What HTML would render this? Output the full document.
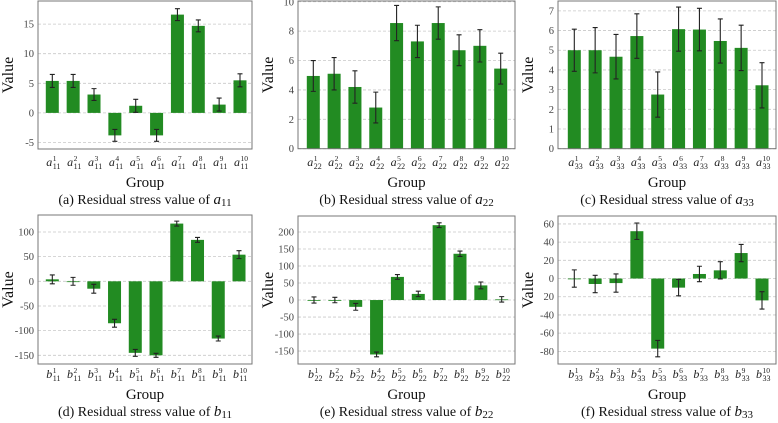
<!DOCTYPE html>
<html><head><meta charset="utf-8"><style>
html,body{margin:0;padding:0;background:#fff;}
svg{display:block;font-family:"Liberation Serif",serif;}
</style></head><body>
<svg id="fig" width="778" height="423" viewBox="0 0 778 423" xmlns="http://www.w3.org/2000/svg"></svg>
<script>
// ---- data ----
const groupsA11 = ["1","2","3","4","5","6","7","8","9","10"];
const valuesA11 = [5.4,5.4,3.1,-3.8,1.2,-3.8,16.6,14.7,1.4,5.5];
const errorsA11 = [1.1,1.1,1.0,1.0,1.1,1.0,1.0,1.0,1.1,1.1];
const ticksA11 = [-5,0,5,10,15];

const valuesA22 = [4.95,5.1,4.2,2.8,8.55,7.3,8.55,6.7,7.0,5.45];
const errorsA22 = [1.05,1.1,1.1,1.05,1.2,1.1,1.1,1.05,1.1,1.05];
const ticksA22 = [0,2,4,6,8,10];

const valuesA33 = [5.0,5.0,4.67,5.72,2.75,6.07,6.05,5.47,5.12,3.22];
const errorsA33 = [1.07,1.15,1.13,1.13,1.15,1.12,1.08,1.12,1.15,1.15];
const ticksA33 = [0,1,2,3,4,5,6,7];

const valuesB11 = [4,0,-15,-85,-145,-150,117,84,-116,54];
const errorsB11 = [9,8,9,8,7,4,5,5,5,8];
const ticksB11 = [-150,-100,-50,0,50,100];

const valuesB22 = [0,0,-20,-160,68,18,220,136,43,2];
const errorsB22 = [9,8,10,7,7,8,7,8,10,8];
const ticksB22 = [-150,-100,-50,0,50,100,150,200];

const valuesB33 = [0,-6,-5,52,-77,-10,5,9,28,-24];
const errorsB33 = [9.5,9.5,10,9,9,9,8.5,9.5,9.5,9.5];
const ticksB33 = [-80,-60,-40,-20,0,20,40,60];
const tickLabelsB33 = ["-80","-60","-40","20","0","20","40","60"];

const NS = "http://www.w3.org/2000/svg";
const svg = document.getElementById("fig");
function mk(tag, attrs, parent, text){
  const e = document.createElementNS(NS, tag);
  for (const k in attrs) e.setAttribute(k, attrs[k]);
  if (text !== undefined) e.textContent = text;
  (parent||svg).appendChild(e);
  return e;
}

function panel(cfg){
  const g = mk("g", {});
  
  
  const {x0,x1,y0,y1,dmin,dmax} = cfg;
  const yS = v => y1 - (v - dmin) / (dmax - dmin) * (y1 - y0);
  const n = cfg.values.length;
  const xS = i => cfg.c0 + i * (cfg.c1 - cfg.c0) / (n - 1);
  cfg.ticks.forEach((t, i) => {
    const y = yS(t);
    const gl = mk("line", {x1:x0, x2:x1, y1:y, y2:y, stroke:"#c8c8c8", "stroke-width":0.8, "stroke-dasharray":"3,2"}, g);
    
    
    const tl = mk("text", {x:x0-4, y:y+3.5, "font-size":10.5, fill:"#444", "text-anchor":"end"}, g, cfg.tickLabels ? cfg.tickLabels[i] : String(t));
    
    
  });
  cfg.values.forEach((v, i) => {
    const cx = xS(i), bw = 13;
    const top = Math.min(yS(v), yS(0)), h = Math.abs(yS(v) - yS(0));
    const b = mk("rect", {x:cx-bw/2, y:top, width:bw, height:Math.max(h,0.8), fill:"#228b22"}, g);
    
    
    const e = cfg.errors[i];
    const ya = yS(v + e), yb = yS(v - e);
    const eb = mk("path", {d:`M${cx},${ya}V${yb}M${cx-2.5},${ya}H${cx+2.5}M${cx-2.5},${yb}H${cx+2.5}`, stroke:"#222", "stroke-width":1.1, fill:"none"}, g);
    
    
    const ly = cfg.labelY;
    const l1 = mk("text", {x:cx-6, y:ly, "font-size":12, "font-style":"italic", fill:"#222"}, g, cfg.letter);
    
    
    const l2 = mk("text", {x:cx+0.5, y:ly-5, "font-size":7.5, fill:"#222"}, g, groupsA11[i]);
    
    
    const l3 = mk("text", {x:cx+0.5, y:ly+3, "font-size":8, fill:"#222"}, g, cfg.sub);
    
    
  });
  const fr = mk("rect", {x:x0, y:y0, width:x1-x0, height:y1-y0, fill:"none", stroke:"#777", "stroke-width":1}, g);
  
  
  const yt = mk("text", {x:0, y:0, "font-size":16, fill:"#111", "text-anchor":"middle", transform:`translate(${x0-25},${(y0+y1)/2}) rotate(-90)`}, g, "Value");
  
  
  const mid = (x0+x1)/2;
  const xt = mk("text", {x:mid, y:cfg.labelY+21, "font-size":15, fill:"#111", "text-anchor":"middle"}, g, "Group");
  
  
  const cap = mk("text", {x:mid, y:cfg.labelY+38, "font-size":14, fill:"#111", "text-anchor":"middle"}, g);
  
  
  mk("tspan", {}, cap, cfg.caption + " Residual stress value of ");
  mk("tspan", {"font-style":"italic", "font-size":15}, cap, cfg.letter);
  mk("tspan", {"font-size":11, dy:2}, cap, cfg.sub);
}

panel({name:"panel-a11", x0:38, x1:252, y0:1, y1:149, dmin:-6.1, dmax:18.9, c0:52.3, c1:240, values:valuesA11, errors:errorsA11, ticks:ticksA11, letter:"a", sub:"11", caption:"(a)", labelY:166});
panel({name:"panel-a22", x0:298, x1:515, y0:1, y1:148.7, dmin:0, dmax:10.05, c0:313.3, c1:500.7, values:valuesA22, errors:errorsA22, ticks:ticksA22, letter:"a", sub:"22", caption:"(b)", labelY:166});
panel({name:"panel-a33", x0:558, x1:776, y0:1, y1:148.7, dmin:0, dmax:7.5, c0:574.3, c1:762, values:valuesA33, errors:errorsA33, ticks:ticksA33, letter:"a", sub:"33", caption:"(c)", labelY:166});
panel({name:"panel-b11", x0:38, x1:252, y0:215, y1:364, dmin:-167.6, dmax:134.4, c0:52.3, c1:239, values:valuesB11, errors:errorsB11, ticks:ticksB11, letter:"b", sub:"11", caption:"(d)", labelY:378});
panel({name:"panel-b22", x0:298, x1:515, y0:216, y1:364, dmin:-188, dmax:247, c0:314, c1:501.7, values:valuesB22, errors:errorsB22, ticks:ticksB22, letter:"b", sub:"22", caption:"(e)", labelY:378});
panel({name:"panel-b33", x0:558, x1:776, y0:216, y1:364, dmin:-93.9, dmax:68.7, c0:574.3, c1:762, values:valuesB33, errors:errorsB33, ticks:ticksB33, tickLabels:tickLabelsB33, letter:"b", sub:"33", caption:"(f)", labelY:378});
</script>
</body></html>
